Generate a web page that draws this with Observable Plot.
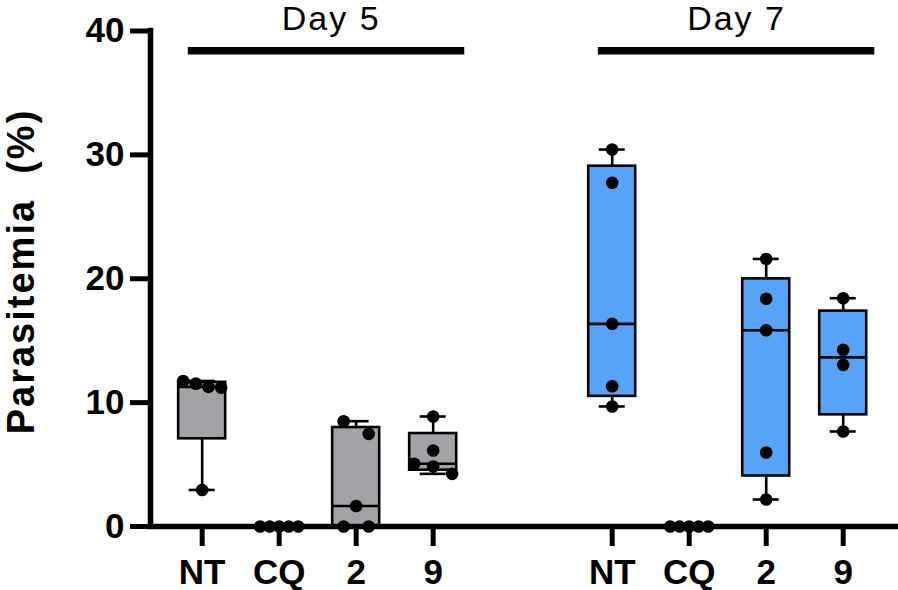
<!DOCTYPE html>
<html>
<head>
<meta charset="utf-8">
<script src="https://cdn.jsdelivr.net/npm/d3@7"></script>
<script src="https://cdn.jsdelivr.net/npm/@observablehq/plot@0.6"></script>
<style>
  html, body { margin: 0; padding: 0; background: #fff; }
  #chart svg { display: block; }
</style>
</head>
<body>
<div id="chart"></div>
<script>
// ---- data ----
const treatments = ["NT", "CQ", "2", "9"];
const days = ["Day 5", "Day 7"];
const day5_NT = [11.75, 11.53, 11.27, 11.21, 2.95];
const day5_CQ = [0, 0, 0, 0, 0];
const day5_2  = [8.5, 7.48, 1.65, 0, 0];
const day5_9  = [8.88, 6.13, 5.06, 4.84, 4.25];
const day7_NT = [30.43, 27.74, 16.36, 11.32, 9.69];
const day7_CQ = [0, 0, 0, 0, 0];
const day7_2  = [21.6, 18.38, 15.84, 5.97, 2.18];
const day7_9  = [18.43, 14.26, 13.05, 7.67];
const yTicks = [0, 10, 20, 30, 40];
const yLabel = "Parasitemia  (%)";
const dayColors = ["#a3a3a7", "#57a3f7"];

// ---- layout ----
const W = 898, H = 590;
const M = {top: 30.5, right: 1, bottom: 64, left: 150};
const xDomain = [-0.671, 9.03];
const DAY_GAP = 5.325;          // distance between the two day groups (in category steps)
const pxPerX = (W - M.left - M.right) / (xDomain[1] - xDomain[0]);
const pxPerY = (H - M.top - M.bottom) / 40;
const BOX_HALF = 23.5 / pxPerX;
const CAP_HALF = 13 / pxPerX;

const groups = [
  [day5_NT, day5_CQ, day5_2, day5_9],
  [day7_NT, day7_CQ, day7_2, day7_9]
];

// GraphPad-style quartiles ((n+1) percentile method)
function quant(s, p) {
  const n = s.length, h = (n + 1) * p;
  if (h <= 1) return s[0];
  if (h >= n) return s[n - 1];
  const lo = Math.floor(h);
  return s[lo - 1] + (h - lo) * (s[lo] - s[lo - 1]);
}

// horizontal spreading of overlapping points (px)
function spread(values) {
  const idx = values.map((v, i) => i).sort((a, b) => values[b] - values[a]);
  const rows = []; let cur = [];
  idx.forEach((i, k) => {
    if (k > 0 && (values[idx[k - 1]] - values[i]) * pxPerY > 13) { rows.push(cur); cur = []; }
    cur.push(i);
  });
  rows.push(cur);
  const off = values.map(() => 0);
  rows.forEach(r => {
    const n = r.length;
    if (n < 2) return;
    const s = Math.min(25, 38 / (n - 1));
    r.forEach((i, j) => { off[i] = (j - (n - 1) / 2) * s; });
  });
  return off;
}

const stats = [], points = [], xTicks = [], tickLabel = new Map();
days.forEach((day, di) => {
  treatments.forEach((t, ti) => {
    const pos = di * DAY_GAP + ti;
    const vals = groups[di][ti];
    const s = [...vals].sort((a, b) => a - b);
    stats.push({
      day, t, pos, color: dayColors[di],
      min: s[0], max: s[s.length - 1],
      q1: quant(s, 0.25), median: quant(s, 0.5), q3: quant(s, 0.75)
    });
    const off = spread(vals);
    vals.forEach((v, i) => points.push({day, t, value: v, x: pos + off[i] / pxPerX}));
    xTicks.push(pos);
    tickLabel.set(pos, t);
  });
});

const dayRows = days.map((day, di) => ({
  day,
  x1: di * DAY_GAP - 0.18,
  x2: di * DAY_GAP + 3.41,
  cx: di * DAY_GAP + 1.615 + (di === 0 ? 0.06 : 0)
}));

const font = "'Liberation Sans', Arial, Helvetica, sans-serif";

const chart = Plot.plot({
  width: W, height: H,
  marginTop: M.top, marginRight: M.right, marginBottom: M.bottom, marginLeft: M.left,
  x: {domain: xDomain},
  y: {domain: [0, 40]},
  style: {fontFamily: font, background: "white", color: "black", overflow: "visible"},
  marks: [
    // boxes
    Plot.rect(stats, {
      x1: d => d.pos - BOX_HALF, x2: d => d.pos + BOX_HALF,
      y1: "q1", y2: "q3",
      fill: "color", stroke: "black", strokeWidth: 2.6
    }),
    Plot.ruleY(stats, {x1: d => d.pos - BOX_HALF, x2: d => d.pos + BOX_HALF, y: "median", stroke: "black", strokeWidth: 2.6}),
    // whiskers
    Plot.ruleX(stats, {x: "pos", y1: "q3", y2: "max", stroke: "black", strokeWidth: 2.6}),
    Plot.ruleX(stats, {x: "pos", y1: "min", y2: "q1", stroke: "black", strokeWidth: 2.6}),
    Plot.ruleY(stats, {x1: d => d.pos - CAP_HALF, x2: d => d.pos + CAP_HALF, y: "max", stroke: "black", strokeWidth: 2.6}),
    Plot.ruleY(stats, {x1: d => d.pos - CAP_HALF, x2: d => d.pos + CAP_HALF, y: "min", stroke: "black", strokeWidth: 2.6}),
    // axis lines
    Plot.ruleY([0], {stroke: "black", strokeWidth: 5.5, strokeLinecap: "square"}),
    Plot.ruleX([xDomain[0]], {y1: 0, y2: 40, stroke: "black", strokeWidth: 5.5, strokeLinecap: "square"}),
    // axes
    Plot.axisY({
      ticks: yTicks, tickSize: 20, tickPadding: 6, strokeWidth: 5,
      fontSize: 35, fontWeight: "bold", label: null
    }),
    Plot.axisX({
      ticks: xTicks, tickFormat: v => tickLabel.get(v), tickSize: 20, tickPadding: 13, strokeWidth: 5,
      fontSize: 35, fontWeight: "bold", label: null
    }),
    // day annotations
    Plot.ruleY(dayRows, {x1: "x1", x2: "x2", y: () => 38.4, stroke: "black", strokeWidth: 7.5}),
    Plot.text(dayRows, {
      x: "cx", y: () => 40, text: "day", fontSize: 34, dy: -11.4,
      lineAnchor: "middle", textAnchor: "middle", fill: "black"
    }),
    // y label
    Plot.text([yLabel], {
      frameAnchor: "left", rotate: -90, dx: -129, dy: -7.25,
      fontSize: 38, fontWeight: "bold", textAnchor: "middle", lineAnchor: "middle",
      fill: "black"
    }),
    // points
    Plot.dot(points, {x: "x", y: "value", r: 6.3, fill: "black", stroke: "none"})
  ]
});

// slightly wider letter spacing on the annotation texts (reference font is wider)
d3.select(chart).selectAll("text").each(function () {
  const t = this.textContent;
  if (t === yLabel) this.style.letterSpacing = "2px";
  else if (days.includes(t)) this.style.letterSpacing = "2px";
});

document.getElementById("chart").appendChild(chart);
</script>
</body>
</html>
